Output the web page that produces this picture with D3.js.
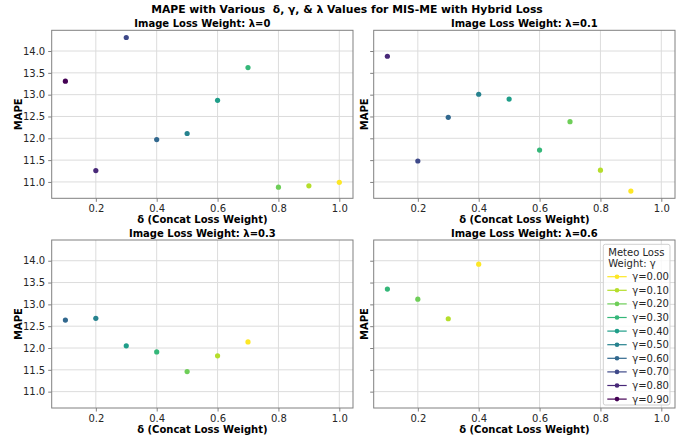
<!DOCTYPE html>
<html><head><meta charset="utf-8">
<script src="https://cdn.jsdelivr.net/npm/d3@7"></script>
<style>body{margin:0;background:#fff}svg{display:block;font-family:"DejaVu Sans",sans-serif}</style>
</head><body><svg id="c" width="694" height="441"></svg>
<script>
const deltas = [0.1,0.2,0.3,0.4,0.5,0.6,0.7,0.8,0.9,1.0];
const lambdas = [0, 0.1, 0.3, 0.6];
const gammas = [0.0,0.1,0.2,0.3,0.4,0.5,0.6,0.7,0.8,0.9];
const mapeL0  = [13.31,11.26,14.31,11.97,12.11,12.87,13.62,10.88,10.91,10.99];
const mapeL01 = [13.88,11.48,12.48,13.01,12.90,11.73,12.38,11.27,10.79];
const mapeL03 = [12.64,12.68,12.05,11.91,11.46,11.82,12.14];
const mapeL06 = [13.35,13.12,12.67,13.92];
const xTicks = [0.2,0.4,0.6,0.8,1.0];
const yTicks = [11.0,11.5,12.0,12.5,13.0,13.5,14.0];
const series = [mapeL0, mapeL01, mapeL03, mapeL06];

const svg = d3.select("#c");
const color = g => d3.interpolateViridis(1 - g/0.9);
const gammaOf = (lam, d) => Math.round((1 - lam - d)*10)/10;

svg.append("text").attr("x",347).attr("y",13).attr("text-anchor","middle")
  .attr("font-weight","bold").attr("font-size",10.8).attr("fill","#000")
  .style("white-space","pre")
  .text("MAPE with Various  δ, γ, & λ Values for MIS-ME with Hybrid Loss");

const panels = [
  {l:51.7, t:30.3},{l:373.7, t:30.3},{l:51.7, t:240},{l:373.7, t:240}
];
const W = 301.3, H = 168;
const x = d3.scaleLinear().domain([0.055,1.045]).range([0,W]);
const y = d3.scaleLinear().domain([10.625,14.475]).range([H,0]);

panels.forEach((p,i)=>{
  const g = svg.append("g").attr("transform",`translate(${p.l},${p.t})`);
  // grid
  g.append("g").selectAll("line").data(xTicks).join("line")
    .attr("x1",d=>x(d)).attr("x2",d=>x(d)).attr("y1",0).attr("y2",H)
    .attr("stroke","#dcdcdc").attr("stroke-width",1);
  g.append("g").selectAll("line").data(yTicks).join("line")
    .attr("y1",d=>y(d)).attr("y2",d=>y(d)).attr("x1",0).attr("x2",W)
    .attr("stroke","#dcdcdc").attr("stroke-width",1);
  // axes
  const xa = g.append("g").attr("transform",`translate(0,${H})`)
    .call(d3.axisBottom(x).tickValues(xTicks).tickFormat(d3.format(".1f")).tickSize(3.5).tickPadding(3));
  const ya = g.append("g")
    .call(d3.axisLeft(y).tickValues(yTicks).tickFormat(i%2===0 ? d3.format(".1f") : "").tickSize(3.5).tickPadding(3));
  [xa,ya].forEach(a=>{
    a.select(".domain").remove();
    a.selectAll("line").attr("stroke","#808080");
    a.selectAll("text").attr("font-size",10).attr("fill","#262626").attr("font-family","DejaVu Sans");
  });
  g.append("rect").attr("x",0).attr("y",0).attr("width",W).attr("height",H)
    .attr("fill","none").attr("stroke","#808080").attr("stroke-width",1);
  // points
  const lam = lambdas[i];
  g.append("g").selectAll("circle").data(series[i]).join("circle")
    .attr("cx",(d,j)=>x(deltas[j])).attr("cy",d=>y(d)).attr("r",2.6)
    .attr("fill",(d,j)=>color(gammaOf(lam,deltas[j])));
  // titles
  g.append("text").attr("x",W/2).attr("y",-3.5).attr("text-anchor","middle")
    .attr("font-weight","bold").attr("font-size",10).text(`Image Loss Weight: λ=${lam}`);
  g.append("text").attr("x",W/2).attr("y",H+24.5).attr("text-anchor","middle")
    .attr("font-weight","bold").attr("font-size",10).text("δ (Concat Loss Weight)");
  const mx = i%2===0 ? -30 : -6;
  g.append("text").attr("transform",`translate(${mx},${H/2}) rotate(-90)`).attr("text-anchor","middle")
    .attr("font-weight","bold").attr("font-size",10).text("MAPE");
});

// legend in panel 4
const lg = svg.append("g").attr("transform","translate(603.3,244.3)");
lg.append("rect").attr("x",0).attr("y",0).attr("width",66.7).attr("height",160.7).attr("rx",2)
  .attr("fill","#fff").attr("fill-opacity",0.8).attr("stroke","#d0d0d0");
lg.append("text").attr("x",5).attr("y",11.5).attr("font-size",10).attr("fill","#262626").text("Meteo Loss");
lg.append("text").attr("x",5).attr("y",22.5).attr("font-size",10).attr("fill","#262626").text("Weight: γ");
gammas.forEach((gm,k)=>{
  const yy = 32.4 + k*13.6;
  lg.append("line").attr("x1",4).attr("x2",23.4).attr("y1",yy).attr("y2",yy)
    .attr("stroke",color(gm)).attr("stroke-width",1.2);
  lg.append("circle").attr("cx",13.7).attr("cy",yy).attr("r",2.3).attr("fill",color(gm));
  lg.append("text").attr("x",29).attr("y",yy+3.6).attr("font-size",10).attr("fill","#262626")
    .text(`γ=${gm.toFixed(2)}`);
});
</script></body></html>
